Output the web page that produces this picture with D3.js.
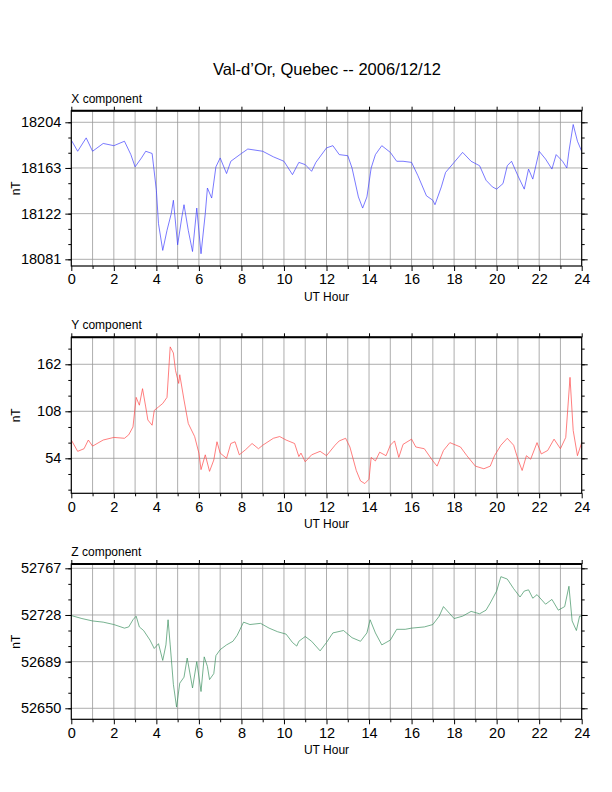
<!DOCTYPE html>
<html lang="en">
<head>
<meta charset="UTF-8" />
<title>Val-d'Or magnetometer</title>
<script src="https://d3js.org/d3.v7.min.js"></script>
<style>
  body { margin: 0; background: #fff; }
  text { font-family: "Liberation Sans", Arial, sans-serif; fill: #000; }
</style>
</head>
<body>
<svg id="chart" width="612" height="792"></svg>
<script>
// hours and values
const xHours = [0,0.3,0.7,1,1.5,2,2.5,2.8,3,3.3,3.5,3.8,4,4.1,4.3,4.5,4.7,4.8,5,5.2,5.3,5.5,5.7,5.9,6.1,6.3,6.4,6.6,6.8,7,7.3,7.5,8,8.3,9,9.5,10,10.4,10.7,
  11,11.3,11.5,12,12.3,12.6,13,13.2,13.5,13.7,13.9,14.1,14.3,14.6,15,15.3,15.6,16,16.3,16.7,17,17.1,17.4,17.6,18,18.4,18.8,19.2,19.5,19.8,20,20.3,20.5,20.7,21,21.3,21.5,21.7,22,22.3,22.6,22.8,23.1,23.3,23.4,23.6,23.8,24];
const xVals = [18188,18178,18190,18178,18185,18183,18187,18175,18164,18172,18178,18176,18143,18113,18089,18107,18122,18134,18094,18119,18130,18107,18088,18127,18086,18122,18145,18136,18164,18172,18158,18169,18176,18180,18178,18173,18169,18157,18168,
  18166,18160,18168,18181,18183,18175,18174,18163,18137,18127,18137,18163,18175,18183,18177,18169,18169,18168,18156,18138,18134,18130,18146,18159,18168,18177,18169,18165,18152,18146,18144,18149,18165,18169,18156,18144,18162,18153,18178,18171,18162,18175,18169,18163,18178,18202,18187,18178];

const yHours = [0,0.3,0.6,0.8,1,1.5,2,2.5,2.7,2.9,3.05,3.2,3.35,3.5,3.6,3.8,3.9,4.1,4.3,4.5,4.65,4.8,4.9,5.05,5.1,5.3,5.5,5.8,6,6.1,6.3,6.5,6.7,6.85,7,7.3,7.5,7.7,7.9,8.2,8.5,8.8,9,9.5,9.8,10.1,10.5,10.7,
  10.8,11,11.3,11.7,12,12.4,12.6,12.9,13.1,13.4,13.6,13.8,14,14.1,14.3,14.5,14.8,15,15.2,15.4,15.6,16,16.2,16.6,17,17.2,17.5,17.8,18.3,18.6,19,19.4,19.7,19.9,20.2,20.5,20.8,21,21.2,21.4,21.6,21.9,22.1,22.4,22.7,23,23.25,23.45,23.6,23.8,24];
const yVals = [75,62,65,75,68,75,78,77,81,90,124,115,134,113,98,92,109,113,117,124,182,175,155,140,150,121,94,79,60,41,58,39,52,73,60,54,71,73,58,64,71,65,69,77,79,75,71,56,
  60,50,58,62,57,69,74,77,67,40,28,25,30,55,51,61,57,69,74,55,70,76,67,65,51,45,63,72,67,57,45,42,45,57,69,77,69,53,40,57,53,72,59,63,76,65,78,147,86,57,72];

const zHours = [0,0.5,1,1.5,2,2.5,2.7,2.9,3.05,3.2,3.4,3.7,3.9,4.1,4.3,4.45,4.55,4.65,4.8,4.95,5.1,5.3,5.45,5.7,5.9,6.1,6.25,6.4,6.5,6.7,6.8,7,7.3,7.6,7.8,8.1,8.4,8.9,9.3,9.7,10.1,10.4,10.6,
  10.7,11,11.3,11.7,12,12.3,12.8,13.2,13.6,13.9,14.05,14.3,14.6,15,15.3,15.7,16,16.6,17,17.3,17.5,17.8,18,18.4,18.8,19.2,19.5,19.7,20,20.2,20.5,20.8,21.1,21.3,21.5,21.7,21.9,22.3,22.6,22.9,23.2,23.4,23.55,23.75,23.9,24];
const zVals = [52727.5,52725,52723,52722,52720,52717,52718,52724,52727,52718,52715,52707,52700,52704,52690,52703,52724,52703,52670,52651,52671,52676,52692,52667,52689,52664,52693,52685,52674,52679,52694,52699,52703,52706,52711,52722,52720,52721,52717,52714,52712,52705,52702,
  52706,52710,52706,52698,52705,52713,52715,52709,52706,52713,52724,52713,52703,52707,52716,52716,52717,52718,52720,52727,52735,52729,52725,52727,52731,52729,52732,52738,52748,52760,52758,52750,52743,52748,52749,52742,52745,52737,52741,52732,52735,52752,52723,52715,52727,52727];

const hourTicks = d3.range(0, 25, 2);

const panels = [
  { label: "X component", hours: xHours, vals: xVals, top: 110.7, bottom: 266, domain: [18075, 18214.4], major: [18081, 18122, 18163, 18204], step: 41, color: "#4040ff" },
  { label: "Y component", hours: yHours, vals: yVals, top: 337.3, bottom: 493.3, domain: [13.8, 193], major: [54, 108, 162], step: 54, color: "#ff4848" },
  { label: "Z component", hours: zHours, vals: zVals, top: 564, bottom: 719.3, domain: [52640.8, 52770.6], major: [52650, 52689, 52728, 52767], step: 39, color: "#3c9060" }
];

const svg = d3.select("#chart");
const left = 71.3, right = 581.7;
const x = d3.scaleLinear().domain([0, 24]).range([left, right]);

svg.append("text").attr("x", 327).attr("y", 75).attr("text-anchor", "middle")
  .style("font-size", "16.5px").text("Val-d\u2019Or, Quebec -- 2006/12/12");

panels.forEach(p => {
  const y = d3.scaleLinear().domain(p.domain).range([p.bottom, p.top]);
  const g = svg.append("g");
  const minor = [];
  for (let v = p.major[0] - p.step; v <= p.domain[1]; v += p.step / 3) {
    if (v >= p.domain[0] && v <= p.domain[1]) minor.push(v);
  }

  // grid
  g.selectAll(".vg").data(d3.range(1, 24)).join("line")
    .attr("x1", d => x(d)).attr("x2", d => x(d)).attr("y1", p.top).attr("y2", p.bottom)
    .attr("stroke", "#999").attr("stroke-width", 0.8);
  g.selectAll(".hg").data(p.major).join("line")
    .attr("x1", left).attr("x2", right).attr("y1", d => y(d)).attr("y2", d => y(d))
    .attr("stroke", "#999").attr("stroke-width", 0.8);

  // data
  g.append("path").datum(p.hours.map((h, i) => [h, p.vals[i]]))
    .attr("fill", "none").attr("stroke", p.color).attr("stroke-width", 0.7)
    .attr("d", d3.line().x(d => x(d[0])).y(d => y(d[1])));

  // left / right axes
  const yMajor = d3.axisLeft(y).tickValues(p.major).tickSize(6).tickPadding(4).tickFormat(d3.format("d"));
  const ax = g.append("g").attr("transform", `translate(${left},0)`).call(yMajor);
  ax.select(".domain").remove();
  ax.selectAll("text").style("font-size", "14.5px").style("font-family", "Liberation Sans, Arial, sans-serif");
  g.append("g").attr("transform", `translate(${left},0)`)
    .call(d3.axisLeft(y).tickValues(minor).tickSize(3).tickFormat("")).select(".domain").remove();
  const ar = g.append("g").attr("transform", `translate(${right},0)`);
  ar.call(d3.axisRight(y).tickValues(p.major).tickSize(6).tickFormat("")).select(".domain").remove();
  g.append("g").attr("transform", `translate(${right},0)`)
    .call(d3.axisRight(y).tickValues(minor).tickSize(3).tickFormat("")).select(".domain").remove();

  // bottom / top axes
  const bx = g.append("g").attr("transform", `translate(0,${p.bottom})`)
    .call(d3.axisBottom(x).tickValues(hourTicks).tickSize(5).tickPadding(3).tickFormat(d3.format("d")));
  bx.select(".domain").remove();
  bx.selectAll("text").style("font-size", "14.5px").style("font-family", "Liberation Sans, Arial, sans-serif");
  g.append("g").attr("transform", `translate(0,${p.bottom})`)
    .call(d3.axisBottom(x).tickValues(d3.range(1, 24, 2)).tickSize(3).tickFormat("")).select(".domain").remove();
  g.append("g").attr("transform", `translate(0,${p.top})`)
    .call(d3.axisTop(x).tickValues(hourTicks).tickSize(4).tickFormat("")).select(".domain").remove();

  // frame
  g.append("rect").attr("x", left).attr("y", p.top).attr("width", right - left).attr("height", p.bottom - p.top)
    .attr("fill", "none").attr("stroke", "#000").attr("stroke-width", 1.2);
  g.append("line").attr("x1", left).attr("x2", right).attr("y1", p.top).attr("y2", p.top)
    .attr("stroke", "#000").attr("stroke-width", 2);

  g.append("text").attr("x", left).attr("y", p.top - 8).style("font-size", "12px").text(p.label);
  g.append("text").attr("transform", `translate(20,${(p.top + p.bottom) / 2}) rotate(-90)`)
    .attr("text-anchor", "middle").style("font-size", "12px").text("nT");
  g.append("text").attr("x", (left + right) / 2).attr("y", p.bottom + 35)
    .attr("text-anchor", "middle").style("font-size", "12px").text("UT Hour");
});
</script>
</body>
</html>
